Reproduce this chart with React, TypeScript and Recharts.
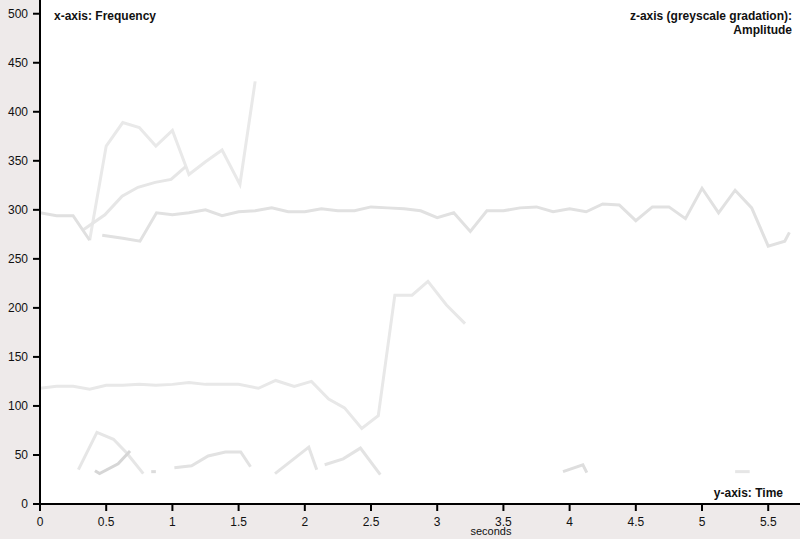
import { LineChart, Line, XAxis, YAxis, CartesianGrid } from 'recharts'

// pitch tracks, [seconds, frequency]
const trackA: [number, number][] = [[0, 297], [0.125, 294], [0.25, 294], [0.375, 269]]
const trackB: [number, number][] = [
  [0.375, 269], [0.5, 365], [0.625, 389], [0.75, 384], [0.875, 365], [1.0, 381],
  [1.125, 336], [1.25, 349], [1.375, 361], [1.51, 326], [1.625, 431],
]
const trackC: [number, number][] = [
  [0.33, 280], [0.49, 295], [0.62, 314], [0.74, 323], [0.87, 328], [0.99, 331], [1.1, 344],
]
const trackD: [number, number][] = [
  [0.47, 274], [0.625, 271], [0.755, 268], [0.88, 297], [1.0, 295], [1.125, 297],
  [1.25, 300], [1.375, 294], [1.5, 298], [1.625, 299], [1.75, 302], [1.875, 298],
  [2.0, 298], [2.125, 301], [2.25, 299], [2.375, 299], [2.5, 303], [2.625, 302],
  [2.75, 301], [2.875, 299], [3.0, 292], [3.125, 297], [3.25, 278], [3.375, 299],
  [3.5, 299], [3.625, 302], [3.75, 303], [3.875, 298], [4.0, 301], [4.125, 298],
  [4.25, 306], [4.375, 305], [4.5, 289], [4.625, 303], [4.75, 303], [4.875, 291],
  [5.0, 322], [5.125, 297], [5.25, 320], [5.375, 302], [5.5, 263], [5.625, 268],
  [5.66, 277],
]
const trackE: [number, number][] = [
  [0, 118], [0.125, 120], [0.25, 120], [0.375, 117], [0.5, 121], [0.625, 121],
  [0.75, 122], [0.875, 121], [1.0, 122], [1.125, 124], [1.25, 122], [1.375, 122],
  [1.5, 122], [1.65, 118], [1.78, 126], [1.92, 120], [2.05, 125], [2.18, 107],
  [2.3, 98], [2.43, 77], [2.555, 90], [2.68, 213], [2.81, 213], [2.93, 227],
  [3.07, 203], [3.21, 184],
]
const trackF: [number, number][] = [[0.29, 35], [0.43, 73], [0.555, 66], [0.655, 52], [0.78, 31]]
const trackG: [number, number][] = [[0.415, 34], [0.45, 31], [0.59, 41], [0.68, 54]]
const trackH: [number, number][] = [[0.84, 33], [0.875, 33]]
const trackI: [number, number][] = [[1.015, 37], [1.145, 39], [1.27, 49], [1.4, 53], [1.516, 53], [1.59, 38]]
const trackJ: [number, number][] = [[1.775, 31], [2.03, 58], [2.09, 35]]
const trackK: [number, number][] = [[2.15, 40], [2.29, 46], [2.42, 57], [2.57, 30]]
const trackL: [number, number][] = [[3.95, 33], [4.1, 40], [4.13, 32]]
const trackM: [number, number][] = [[5.25, 33], [5.36, 33]]

const xTicks = [0, 0.5, 1, 1.5, 2, 2.5, 3, 3.5, 4, 4.5, 5, 5.5]
const yTicks = [0, 50, 100, 150, 200, 250, 300, 350, 400, 450, 500]

const tracks = [
  { key: 'E', pts: trackE, color: '#e8e8e8' },
  { key: 'B', pts: trackB, color: '#e9e9e9' },
  { key: 'C', pts: trackC, color: '#e6e6e6' },
  { key: 'A', pts: trackA, color: '#e0e0e0' },
  { key: 'D', pts: trackD, color: '#e1e1e1' },
  { key: 'F', pts: trackF, color: '#e6e6e6' },
  { key: 'G', pts: trackG, color: '#d6d6d6' },
  { key: 'H', pts: trackH, color: '#dcdcdc' },
  { key: 'I', pts: trackI, color: '#e2e2e2' },
  { key: 'J', pts: trackJ, color: '#e4e4e4' },
  { key: 'K', pts: trackK, color: '#e3e3e3' },
  { key: 'L', pts: trackL, color: '#dedede' },
  { key: 'M', pts: trackM, color: '#e6e6e6' },
]

const font = '"Liberation Sans", Arial, sans-serif'
const toPoints = (pairs: [number, number][]) => pairs.map(([t, f]) => ({ t, f }))

export default function App() {
  return (
    <div style={{ position: 'fixed', left: 0, top: 0, width: 800, height: 539, background: '#eeeaea', fontFamily: font }}>
      <LineChart width={800} height={539} margin={{ top: 0, right: 0, bottom: 0, left: 0 }}>
        <CartesianGrid fill="#ffffff" horizontal={false} vertical={false} />
        <XAxis
          type="number"
          dataKey="t"
          domain={[0, 5.74]}
          allowDataOverflow
          ticks={xTicks}
          height={35}
          tickSize={7}
          tickMargin={6}
          axisLine={{ stroke: '#000', strokeWidth: 2 }}
          tickLine={{ stroke: '#000', strokeWidth: 2 }}
          tick={{ fontSize: 12, fill: '#111', fontFamily: font }}
        />
        <YAxis
          type="number"
          dataKey="f"
          domain={[0, 514]}
          allowDataOverflow
          ticks={yTicks}
          width={40}
          tickSize={7}
          tickMargin={5}
          axisLine={{ stroke: '#000', strokeWidth: 2 }}
          tickLine={{ stroke: '#000', strokeWidth: 2 }}
          tick={{ fontSize: 12, fill: '#111', fontFamily: font }}
        />
        {tracks.map((tr) => (
          <Line
            key={tr.key}
            data={toPoints(tr.pts)}
            dataKey="f"
            type="linear"
            stroke={tr.color}
            strokeWidth={3}
            dot={false}
            activeDot={false}
            isAnimationActive={false}
          />
        ))}
        <text x={54} y={20} fontSize={12} fontWeight="bold" fill="#111" fontFamily={font}>x-axis: Frequency</text>
        <text x={792} y={20} fontSize={12} fontWeight="bold" fill="#111" textAnchor="end" fontFamily={font}>z-axis (greyscale gradation):</text>
        <text x={792} y={34} fontSize={12} fontWeight="bold" fill="#111" textAnchor="end" fontFamily={font}>Amplitude</text>
        <text x={783} y={497} fontSize={12} fontWeight="bold" fill="#111" textAnchor="end" fontFamily={font}>y-axis: Time</text>
        <text x={491} y={535} fontSize={11} fill="#111" textAnchor="middle" fontFamily={font}>seconds</text>
      </LineChart>
    </div>
  )
}
